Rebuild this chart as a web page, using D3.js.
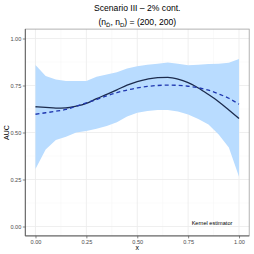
<!DOCTYPE html>
<html lang="en">
<head>
<meta charset="utf-8">
<title>auc kernel</title>
<script src="https://d3js.org/d3.v7.min.js"></script>
<style>
  body{margin:0;background:#fff;font-family:"Liberation Sans",Arial,sans-serif;}
</style>
</head>
<body>
<div id="chart"></div>
<script>
// covariate grid and curves
var xs = [0,0.05,0.10,0.15,0.20,0.25,0.30,0.35,0.40,0.45,0.50,0.55,0.60,0.65,0.70,0.75,0.80,0.85,0.90,0.95,1.00]
var trueAUC = [0.637,0.634,0.630,0.631,0.640,0.655,0.680,0.703,0.727,0.752,0.771,0.784,0.792,0.793,0.784,0.765,0.737,0.702,0.664,0.620,0.575]
var meanAUC = [0.597,0.605,0.613,0.623,0.640,0.658,0.675,0.695,0.712,0.726,0.737,0.745,0.750,0.752,0.751,0.746,0.738,0.725,0.705,0.682,0.650]
var upper = [0.859,0.800,0.782,0.774,0.774,0.774,0.797,0.808,0.820,0.840,0.853,0.861,0.866,0.873,0.866,0.858,0.860,0.864,0.866,0.871,0.891]
var lower = [0.306,0.410,0.460,0.478,0.500,0.508,0.520,0.535,0.555,0.585,0.605,0.615,0.620,0.620,0.612,0.596,0.572,0.542,0.490,0.420,0.265]
var xTicks = [0,0.25,0.5,0.75,1]
var yTicks = [0,0.25,0.5,0.75,1]

var W = 254, H = 254
// panel edges (don't call it "top", that's window.top)
var pL = 25.3, pR = 249.2, pT = 29.1, pB = 235.9

var svg = d3.select("#chart").append("svg").attr("width",W).attr("height",H)

var xScale = d3.scaleLinear().domain([-0.05,1.05]).range([pL,pR])
var yScale = d3.scaleLinear().domain([-0.05,1.05]).range([pB,pT])

// grid
var minor = [0.125,0.375,0.625,0.875]
svg.selectAll(".gxm").data(minor).enter().append("line")
  .attr("x1",function(d){return xScale(d)}).attr("x2",function(d){return xScale(d)})
  .attr("y1",pT).attr("y2",pB).attr("stroke","#f4f4f4").attr("stroke-width",0.5)
svg.selectAll(".gym").data(minor).enter().append("line")
  .attr("y1",function(d){return yScale(d)}).attr("y2",function(d){return yScale(d)})
  .attr("x1",pL).attr("x2",pR).attr("stroke","#f4f4f4").attr("stroke-width",0.5)
svg.selectAll(".gx").data(xTicks).enter().append("line")
  .attr("x1",function(d){return xScale(d)}).attr("x2",function(d){return xScale(d)})
  .attr("y1",pT).attr("y2",pB).attr("stroke","#ebebeb").attr("stroke-width",0.8)
svg.selectAll(".gy").data(yTicks).enter().append("line")
  .attr("y1",function(d){return yScale(d)}).attr("y2",function(d){return yScale(d)})
  .attr("x1",pL).attr("x2",pR).attr("stroke","#ebebeb").attr("stroke-width",0.8)

var pts = xs.map(function(x,i){return {x:x,t:trueAUC[i],m:meanAUC[i],lo:lower[i],hi:upper[i]}})

// band
svg.append("path").datum(pts)
  .attr("d",d3.area().x(function(d){return xScale(d.x)})
    .y0(function(d){return yScale(d.lo)}).y1(function(d){return yScale(d.hi)}))
  .attr("fill","#b9dcff")

// lines
svg.append("path").datum(pts)
  .attr("d",d3.line().curve(d3.curveMonotoneX).x(function(d){return xScale(d.x)}).y(function(d){return yScale(d.t)}))
  .attr("fill","none").attr("stroke","#1c2b4d").attr("stroke-width",1.3)
svg.append("path").datum(pts)
  .attr("d",d3.line().curve(d3.curveMonotoneX).x(function(d){return xScale(d.x)}).y(function(d){return yScale(d.m)}))
  .attr("fill","none").attr("stroke","#2038b0").attr("stroke-width",1.3).attr("stroke-dasharray","4,3")

// border
svg.append("rect").attr("x",pL).attr("y",pT).attr("width",pR-pL).attr("height",pB-pT)
  .attr("fill","none").attr("stroke","#a0a0a0").attr("stroke-width",0.8)

// axes
var xAxis = d3.axisBottom(xScale).tickValues(xTicks).tickFormat(d3.format(".2f")).tickSize(2.5).tickPadding(1.5)
var gx = svg.append("g").attr("transform","translate(0,"+pB+")").call(xAxis)
var yAxis = d3.axisLeft(yScale).tickValues(yTicks).tickFormat(d3.format(".2f")).tickSize(2.5).tickPadding(1.5)
var gy = svg.append("g").attr("transform","translate("+pL+",0)").call(yAxis)
gx.select(".domain").attr("d","M"+pL+",0H"+pR).attr("stroke","#555").attr("stroke-width",0.9)
gy.select(".domain").attr("d","M0,"+pT+"V"+pB).attr("stroke","#555").attr("stroke-width",0.9)
svg.selectAll(".tick line").attr("stroke","#555").attr("stroke-width",0.7)
svg.selectAll(".tick text").attr("fill","#4d4d4d").style("font-size","5.6px")
  .style("font-family","Liberation Sans, Arial, sans-serif")

// titles
svg.append("text").attr("x",(pL+pR)/2).attr("y",11).attr("text-anchor","middle")
  .style("font-size","8.6px").text("Scenario III \u2013 2% cont.")
var sub = svg.append("text").attr("x",(pL+pR)/2).attr("y",24.5).attr("text-anchor","middle")
  .style("font-size","8.6px")
sub.append("tspan").text("(n")
sub.append("tspan").attr("baseline-shift","-25%").style("font-size","6px").text("D\u0304")
sub.append("tspan").text(", n")
sub.append("tspan").attr("baseline-shift","-25%").style("font-size","6px").text("D")
sub.append("tspan").text(") = (200, 200)")

svg.append("text").attr("x",(pL+pR)/2).attr("y",250).attr("text-anchor","middle")
  .style("font-size","7px").text("x")
svg.append("text").attr("transform","translate(9,"+((pT+pB)/2)+") rotate(-90)").attr("text-anchor","middle")
  .style("font-size","7px").text("AUC")

svg.append("text").attr("x",212).attr("y",224.5).attr("text-anchor","middle")
  .style("font-size","5.6px").text("Kernel estimator")
</script>
</body>
</html>
